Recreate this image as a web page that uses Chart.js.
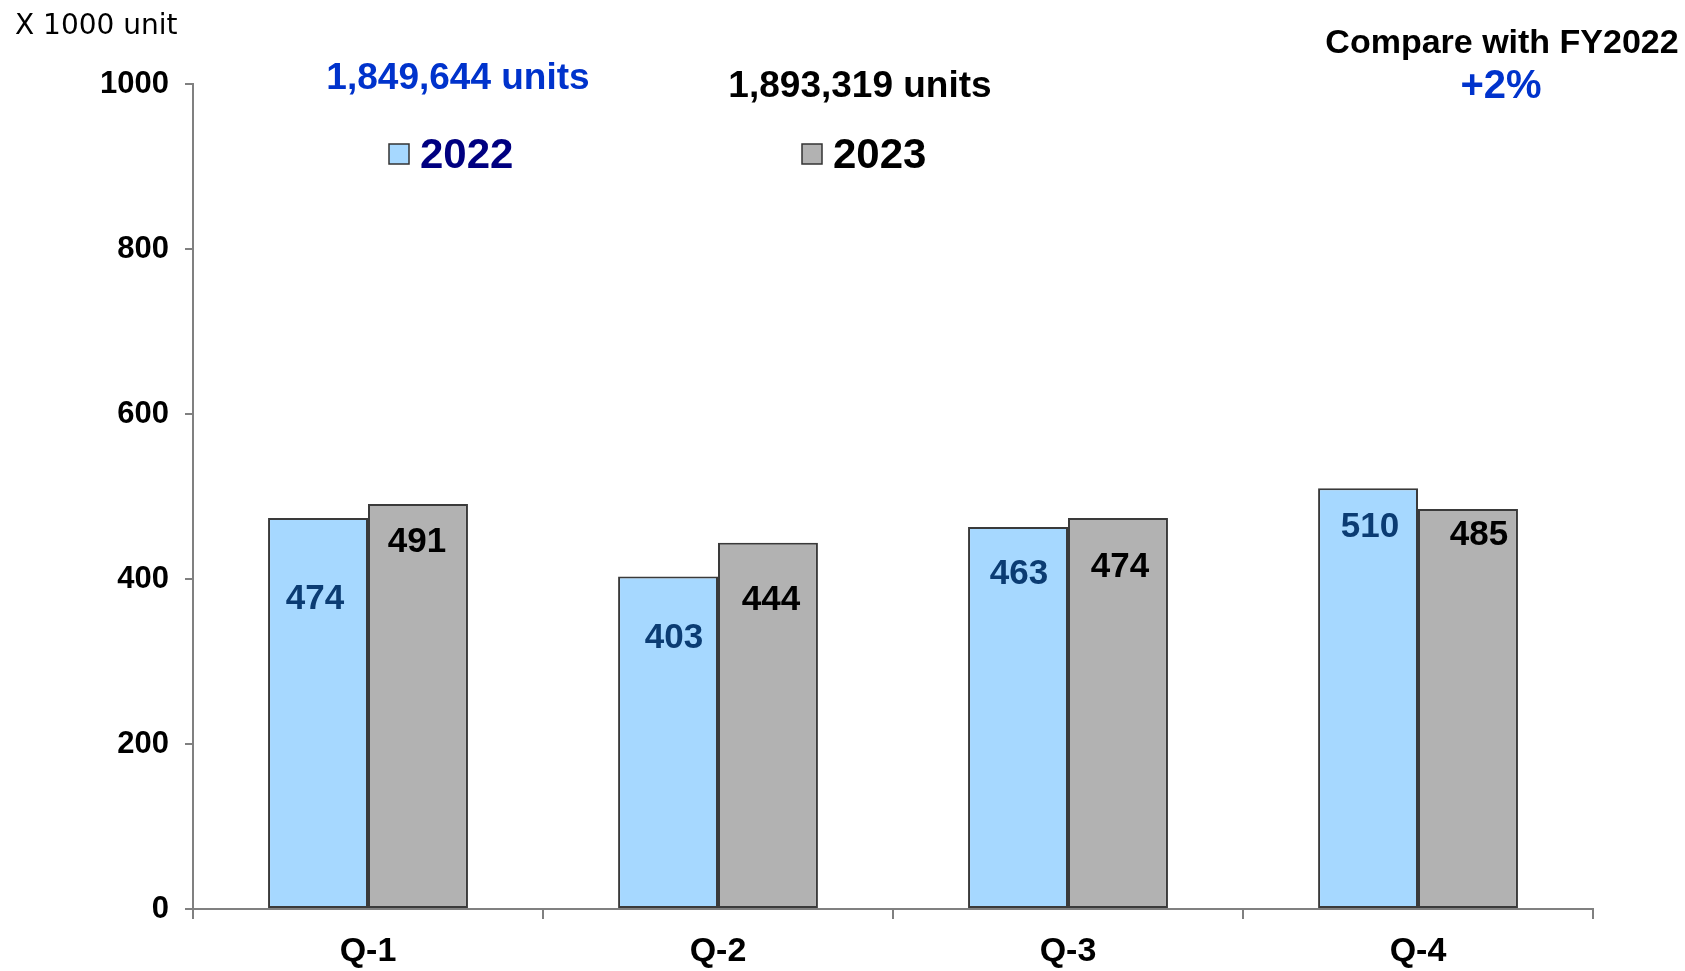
<!DOCTYPE html>
<html>
<head>
<meta charset="utf-8">
<script src="https://cdn.jsdelivr.net/npm/chart.js@4"></script>
<style>
  html, body { margin: 0; padding: 0; background: #fff; }
  #wrap { width: 1685px; height: 971px; position: relative; }
</style>
</head>
<body>
<div id="wrap"><canvas id="chart"></canvas></div>
<script>
const quarters = ["Q-1", "Q-2", "Q-3", "Q-4"];
const sales2022 = [474, 403, 463, 510];
const sales2023 = [491, 444, 474, 485];
const yTicks = [0, 200, 400, 600, 800, 1000];
const total2022 = "1,849,644 units";
const total2023 = "1,893,319 units";
const compareTitle = "Compare with FY2022";
const compareValue = "+2%";
const unitLabel = "X 1000 unit";

const FONT = "'Liberation Sans', Arial, sans-serif";
const BLUE_TEXT = "#0033CC";

// labels sit inside the bars, hand placed like in the original slide
const valueLabels = {
  id: "valueLabels",
  afterDatasetsDraw(chart, args, opts) {
    const ctx = chart.ctx;
    ctx.save();
    ctx.font = "bold 35px " + FONT;
    ctx.textAlign = "center";
    ctx.textBaseline = "middle";
    chart.data.datasets.forEach((ds, i) => {
      const meta = chart.getDatasetMeta(i);
      meta.data.forEach((bar, j) => {
        const off = opts.offsets[i][j];
        ctx.fillStyle = opts.colors[i];
        ctx.fillText(String(ds.data[j]), bar.x + off[0], bar.y + off[1]);
      });
    });
    ctx.restore();
  },
};

const headerTexts = {
  id: "headerTexts",
  afterDraw(chart) {
    const ctx = chart.ctx;
    ctx.save();
    ctx.textBaseline = "middle";

    ctx.font = "28px 'DejaVu Sans', sans-serif";
    ctx.fillStyle = "#000";
    ctx.textAlign = "left";
    ctx.fillText(unitLabel, 15, 27);

    ctx.textAlign = "center";
    ctx.font = "bold 37px " + FONT;
    ctx.fillStyle = BLUE_TEXT;
    ctx.fillText(total2022, 458, 79);
    ctx.fillStyle = "#000";
    ctx.fillText(total2023, 860, 87);

    ctx.font = "bold 34px " + FONT;
    ctx.fillText(compareTitle, 1502, 44);
    ctx.font = "bold 40px " + FONT;
    ctx.fillStyle = BLUE_TEXT;
    ctx.fillText(compareValue, 1501, 87);

    // legend
    const items = [
      { x: 389, color: "#000080" },
      { x: 802, color: "#000000" },
    ];
    ctx.textAlign = "left";
    ctx.font = "bold 42px " + FONT;
    chart.data.datasets.forEach((ds, i) => {
      const it = items[i];
      ctx.fillStyle = ds.backgroundColor;
      ctx.fillRect(it.x, 144, 20, 20);
      ctx.strokeStyle = "#333";
      ctx.lineWidth = 1.5;
      ctx.strokeRect(it.x, 144, 20, 20);
      ctx.fillStyle = it.color;
      ctx.fillText(ds.label, it.x + 31, 156);
    });
    ctx.restore();
  },
};

new Chart(document.getElementById("chart"), {
  type: "bar",
  data: {
    labels: quarters,
    datasets: [
      {
        label: "2022",
        data: sales2022,
        backgroundColor: "#A6D8FF",
        borderColor: "#3a3a3a",
        borderWidth: 2,
        borderSkipped: false,
      },
      {
        label: "2023",
        data: sales2023,
        backgroundColor: "#B2B2B2",
        borderColor: "#3a3a3a",
        borderWidth: 2,
        borderSkipped: false,
      },
    ],
  },
  options: {
    responsive: true,
    maintainAspectRatio: false,
    animation: false,
    layout: { padding: { top: 84, right: 92, bottom: 0, left: 0 } },
    datasets: { bar: { categoryPercentage: 0.571, barPercentage: 1 } },
    plugins: {
      legend: { display: false },
      tooltip: { enabled: false },
      valueLabels: {
        colors: ["#0B3C73", "#000000"],
        offsets: [
          [[-3, 81], [6, 62], [1, 47], [2, 39]],
          [[-1, 38], [3, 58], [2, 49], [11, 26]],
        ],
      },
    },
    scales: {
      x: {
        grid: {
          offset: true,
          drawOnChartArea: false,
          tickLength: 10,
          color: "#808080",
          lineWidth: 2,
        },
        border: { color: "#808080", width: 2 },
        ticks: { color: "#000", font: { family: FONT, size: 34, weight: "bold" }, padding: 12 },
        afterFit(scale) {
          scale.height = 62;
        },
      },
      y: {
        min: 0,
        max: 1000,
        afterBuildTicks(scale) {
          scale.ticks = yTicks.map((v) => ({ value: v }));
        },
        grid: {
          drawOnChartArea: false,
          tickLength: 8,
          color: "#808080",
          lineWidth: 2,
        },
        border: { color: "#808080", width: 2 },
        ticks: {
          color: "#000",
          font: { family: FONT, size: 31, weight: "bold" },
          padding: 16,
          callback: (v) => String(v),
        },
        afterFit(scale) {
          scale.width = 193;
        },
      },
    },
  },
  plugins: [valueLabels, headerTexts],
});
</script>
</body>
</html>
